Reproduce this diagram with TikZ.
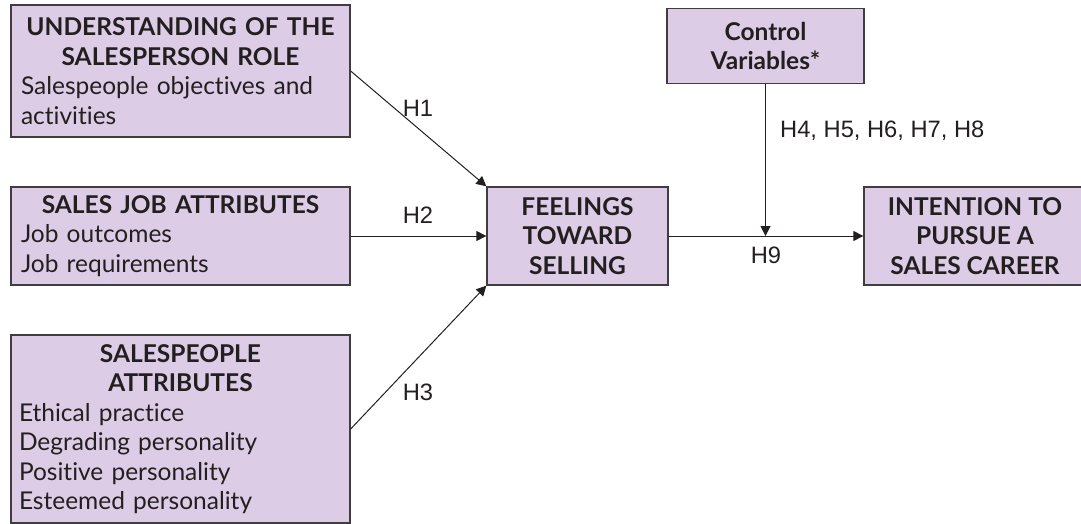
\documentclass[tikz,border=0pt]{standalone}
\usepackage{fontspec}
\setmainfont{Lato}[Ligatures=NoCommon]
\newfontfamily\hypfont{Liberation Sans}
\usepackage{tikz}
\usetikzlibrary{shapes}
\usetikzlibrary{arrows.meta}
\definecolor{boxfill}{RGB}{221,204,230}
\definecolor{boxline}{RGB}{64,60,64}
\definecolor{inkgray}{RGB}{35,31,32}

\begin{document}
\begin{tikzpicture}[x=1pt, y=-1pt,
  box/.style={draw=boxline, fill=boxfill, line width=1.3pt, inner sep=0pt,
    text=inkgray, font=\fontsize{24.5}{29.5}\selectfont},
  headbox/.style={box, align=center, font=\bfseries\fontsize{24.5}{29.5}\selectfont},
  hyp/.style={text=inkgray, inner sep=0pt, font=\hypfont\fontsize{23.7}{27}\selectfont},
  link/.style={draw=inkgray, line width=1pt, -{Triangle[length=10pt,width=10pt]}}]
  \useasboundingbox (0,0) rectangle (1081,524);
  % left column
  \node[box, minimum width=339pt, minimum height=132pt, text width=319pt, align=left]
    (role) at (180.5,71) {{\centering\bfseries UNDERSTANDING OF THE\\ SALESPERSON ROLE\par}
    Salespeople objectives and\\ activities};
  \node[box, minimum width=339pt, minimum height=98pt, text width=319pt, align=left]
    (jobattr) at (180.5,236) {{\centering\bfseries SALES JOB ATTRIBUTES\par}
    Job outcomes\\ Job requirements};
  \node[box, minimum width=339pt, minimum height=188pt, text width=323pt, align=left]
    (people) at (180.5,429) {{\centering\bfseries SALESPEOPLE\\ ATTRIBUTES\par}
    Ethical practice\\ Degrading personality\\ Positive personality\\ Esteemed personality};
  % middle and right
  \node[headbox, minimum width=181pt, minimum height=98pt] (feel) at (577.5,236)
    {FEELINGS\\ TOWARD\\ SELLING};
  \node[headbox, minimum width=197pt, minimum height=75pt] (ctrl) at (765.5,46)
    {Control\\ Variables*};
  \node[headbox, minimum width=222pt, minimum height=98pt] (career) at (975,236)
    {INTENTION TO\\ PURSUE A\\ SALES CAREER};
  % paths
  \draw[link] (role.east) -- (feel.north west);
  \draw[link] (jobattr.east) -- (feel.west);
  \draw[link] (people.east) -- (feel.south west);
  \draw[link] (feel.east) -- (career.west);
  \draw[link] (ctrl.south) -- (ctrl.south |- feel.east);
  \node[hyp] (h1) at (418,108) {H1};
  \node[hyp] (h2) at (418,215) {H2};
  \node[hyp] (h3) at (418,392) {H3};
  \node[hyp, anchor=west] (h4) at (780,131) {H4, H5, H6, H7, H8};
  \node[hyp] (h9) at (766,255) {H9};
\end{tikzpicture}
\end{document}
